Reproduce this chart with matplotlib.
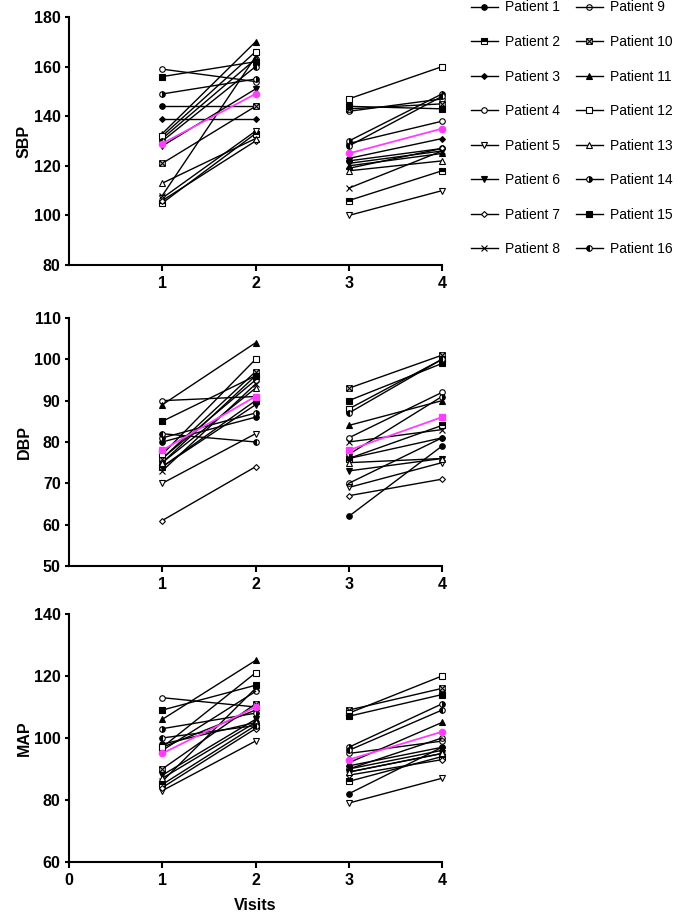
import numpy as np
import matplotlib
matplotlib.use("Agg")
import matplotlib.pyplot as plt
from matplotlib.path import Path

plt.rcParams['font.family'] = ['Liberation Sans', 'DejaVu Sans']

visits = [1, 2, 3, 4]
patients = [f"Patient {i}" for i in range(1, 17)]

# values per patient (Patient 1 .. Patient 16)
sbp_v1 = [144, 105, 139, 159, 107, 128, 106, 108, 131, 121, 133, 132, 113, 149, 156, 130]
sbp_v2 = [144, 133, 139, 154, 134, 151, 130, 164, 163, 144, 170, 166, 131, 155, 162, 160]
sbp_v3 = [122, 106, 123, 129, 100, 121, 119, 111, 142, 143, 120, 147, 118, 130, 144, 128]
sbp_v4 = [127, 118, 131, 138, 110, 126, 127, 126, 147, 145, 125, 160, 122, 149, 143, 148]

dbp_v1 = [80, 74, 75, 90, 70, 74, 61, 73, 76, 76, 89, 77, 75, 81, 85, 82]
dbp_v2 = [86, 90, 96, 91, 82, 89, 74, 94, 95, 97, 104, 100, 93, 87, 96, 80]
dbp_v3 = [62, 76, 76, 81, 69, 73, 67, 80, 70, 93, 84, 88, 75, 77, 90, 87]
dbp_v4 = [79, 84, 81, 92, 75, 76, 71, 83, 81, 101, 90, 100, 76, 91, 99, 100]

map_v1 = [98, 85, 97, 113, 83, 88, 84, 86, 96, 90, 106, 97, 87, 103, 109, 100]
map_v2 = [105, 104, 109, 110, 99, 106, 103, 116, 115, 111, 125, 121, 105, 108, 117, 104]
map_v3 = [82, 86, 91, 95, 79, 89, 88, 90, 90, 109, 92, 108, 89, 97, 107, 96]
map_v4 = [97, 94, 97, 99, 87, 95, 93, 96, 100, 116, 105, 120, 95, 111, 114, 109]

# group means (magenta line)
sbp_mean = [129, 149, 125, 135]
dbp_mean = [78, 91, 78, 86]
map_mean = [95, 110, 93, 102]

boxx = Path([(-1, -1), (1, -1), (1, 1), (-1, 1), (-1, -1), (-1, -1), (1, 1), (-1, 1), (1, -1)],
            [Path.MOVETO, Path.LINETO, Path.LINETO, Path.LINETO, Path.CLOSEPOLY,
             Path.MOVETO, Path.LINETO, Path.MOVETO, Path.LINETO])

# marker, face, size
styles = [
    ("o", "full", 4), ("s", "top", 4), ("D", "full", 3), ("o", "white", 4),
    ("v", "white", 4.5), ("v", "full", 4.5), ("D", "white", 3), ("x", "full", 4),
    ("o", "none", 4), (boxx, "white", 4), ("^", "full", 4.5), ("s", "white", 4),
    ("^", "white", 4.5), ("o", "right", 4), ("s", "full", 4), ("o", "left", 4),
]

def marker_kw(st):
    m, face, ms = st
    kw = dict(marker=m, ms=ms, mec="black", mew=0.8)
    if face == "full":
        kw.update(mfc="black")
    elif face == "white":
        kw.update(mfc="white")
    elif face == "none":
        kw.update(mfc="none")
    else:
        kw.update(mfc="black", fillstyle=face, markerfacecoloralt="white")
    return kw

panels = [
    ("SBP", [sbp_v1, sbp_v2, sbp_v3, sbp_v4], sbp_mean, (80, 180), 20, "o"),
    ("DBP", [dbp_v1, dbp_v2, dbp_v3, dbp_v4], dbp_mean, (50, 110), 10, "s"),
    ("MAP", [map_v1, map_v2, map_v3, map_v4], map_mean, (60, 140), 20, "o"),
]
bottoms = [0.7097, 0.3801, 0.0559]

fig = plt.figure(figsize=(6.78, 9.13), dpi=100)
handles = []
for k, (name, vals, mean, ylim, step, mmark) in enumerate(panels):
    ax = fig.add_axes([0.1018, bottoms[k], 0.5501, 0.2716])
    v = np.array(vals)
    for i in range(16):
        kw = marker_kw(styles[i])
        ln, = ax.plot(visits[:2], v[:2, i], color="black", lw=1.0, **kw, clip_on=False)
        ax.plot(visits[2:], v[2:, i], color="black", lw=1.0, **kw, clip_on=False)
        if k == 0:
            handles.append(ln)
    for seg in (slice(0, 2), slice(2, 4)):
        ax.plot(visits[seg], mean[seg], color="#FF3CFF", lw=1.3, marker=mmark,
                ms=4.5, mfc="#FF3CFF", mec="#FF3CFF", zorder=5, clip_on=False)

    ax.set_xlim(0, 4)
    ax.set_ylim(*ylim)
    ax.set_yticks(np.arange(ylim[0], ylim[1] + 1, step))
    if k == 2:
        ax.set_xticks([0, 1, 2, 3, 4])
        ax.set_xlabel("Visits", fontsize=11.5, fontweight="bold", labelpad=7)
    else:
        ax.set_xticks([1, 2, 3, 4])
    ax.set_ylabel(name, fontsize=11.5, fontweight="bold")
    ax.yaxis.set_label_coords(-0.1, 0.5)
    for s in ("top", "right"):
        ax.spines[s].set_visible(False)
    for s in ("left", "bottom"):
        ax.spines[s].set_linewidth(1.5)
    ax.tick_params(axis="x", length=4.5, width=1.5, pad=3.5, labelsize=11.5)
    ax.tick_params(axis="y", length=3, width=1.5, pad=3, labelsize=11.5)
    for lab in ax.get_xticklabels() + ax.get_yticklabels():
        lab.set_fontweight("bold")

fig.legend(handles, patients, ncol=2, loc="upper left", bbox_to_anchor=(0.694, 0.9995),
           frameon=False, fontsize=10, labelspacing=1.48, handlelength=1.95,
           handletextpad=0.55, columnspacing=1.1, borderpad=0, borderaxespad=0)

fig.savefig("out.png", dpi=100)
